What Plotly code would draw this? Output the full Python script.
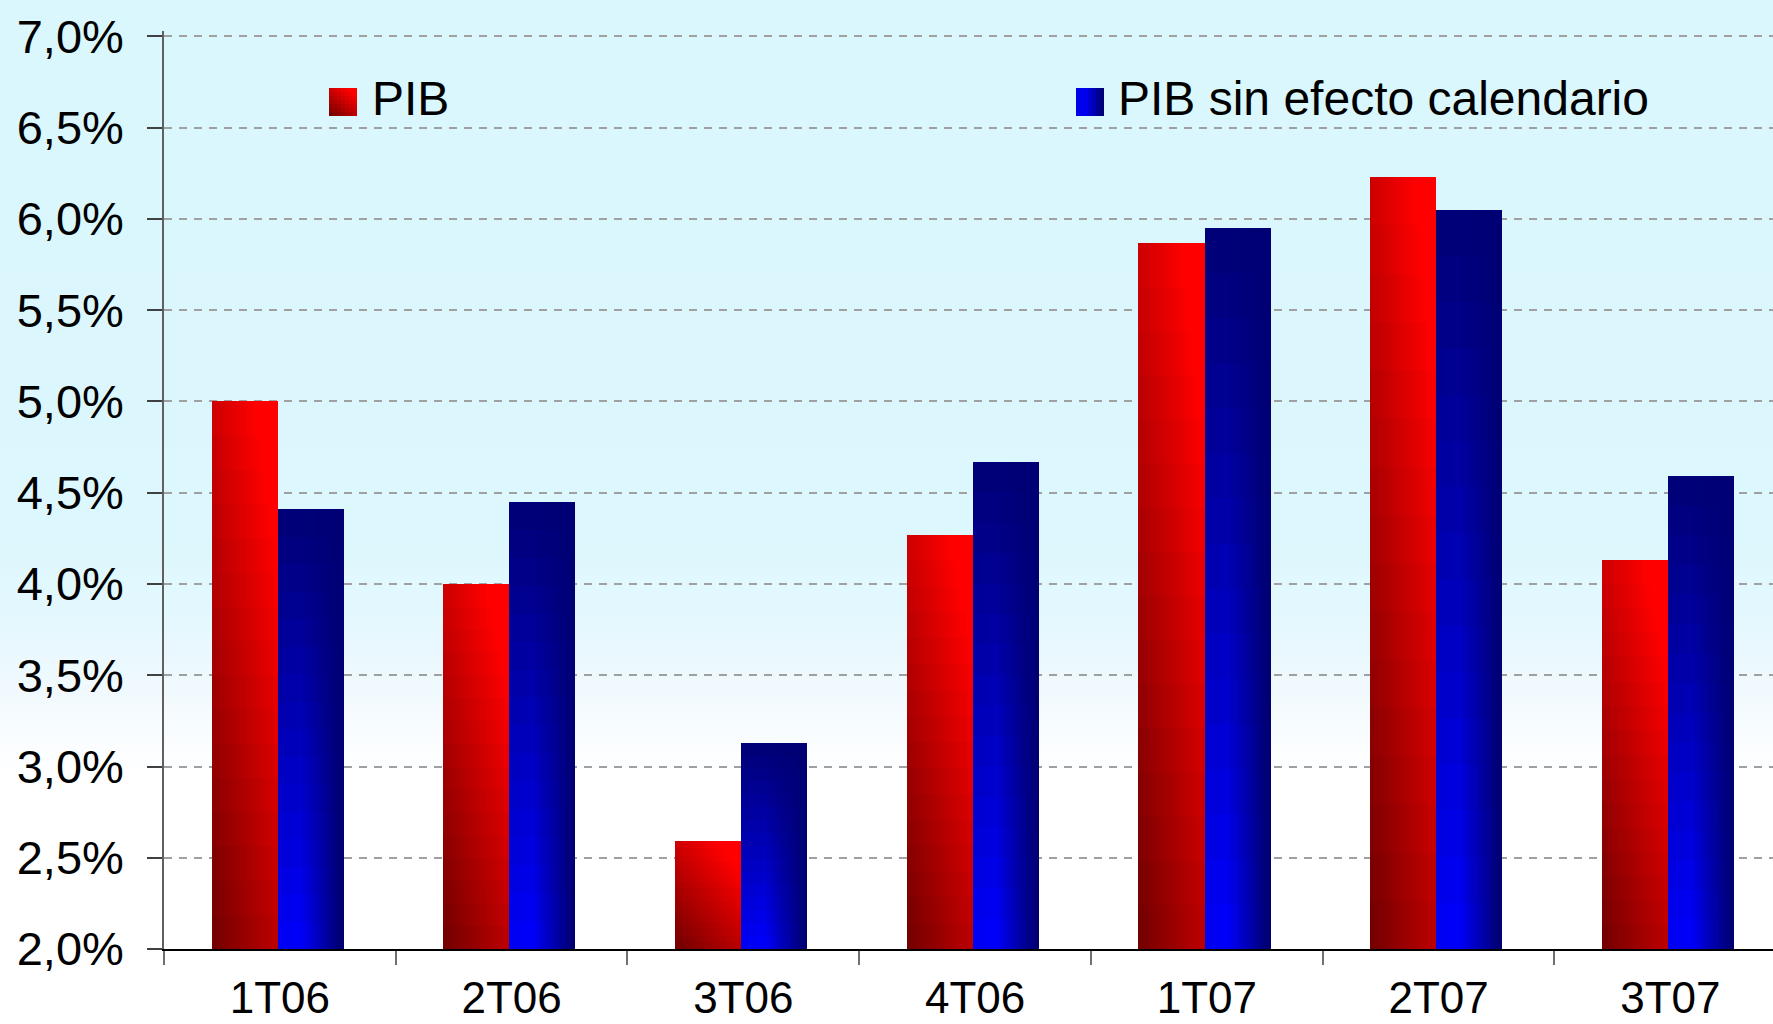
import plotly.graph_objects as go

# ---------------- data ----------------
categories = ["1T06", "2T06", "3T06", "4T06", "1T07", "2T07", "3T07"]
pib = [5.00, 4.00, 2.59, 4.27, 5.87, 6.23, 4.13]
pib_sin_efecto = [4.41, 4.45, 3.13, 4.67, 5.95, 6.05, 4.59]
series_names = ["PIB", "PIB sin efecto calendario"]
y_tickvals = [2.0, 2.5, 3.0, 3.5, 4.0, 4.5, 5.0, 5.5, 6.0, 6.5, 7.0]
y_ticktext = ["2,0%", "2,5%", "3,0%", "3,5%", "4,0%", "4,5%", "5,0%", "5,5%", "6,0%", "6,5%", "7,0%"]

# ---------------- layout constants ----------------
W, H = 1773, 1024
ML, MR, MT, MB = 164, 0, 31, 75
PW, PH = W - ML - MR, H - MT - MB
Y0 = 2.0
Y_TOP = 7.03
FONT = "Liberation Sans, Arial, sans-serif"


def red_col(fx, fy):
    r = min(255, 112 + 75 * fx + 95 * fy)
    return f"rgb({int(r)},0,0)"


def blue_col(fx, fy):
    if fx < 0.35:
        h = 0.93 + 0.07 * fx / 0.35
    else:
        h = max(0.0, 1 - (fx - 0.35) / 0.6)
    v = 1 - fy
    b = 116 + 139 * h * v
    return f"rgb(0,0,{int(b)})"


fig = go.Figure()

NX, NY = 16, 16
bar_w = 0.285
series = [
    (pib, -0.295, red_col),
    (pib_sin_efecto, -0.01, blue_col),
]
for vals, off, cfun in series:
    for j in range(NX):
        for k in range(NY):
            bases = [Y0 + (v - Y0) * k / NY for v in vals]
            heights = [v - b for v, b in zip(vals, bases)]
            fig.add_trace(go.Bar(
                x=categories, y=heights, base=bases,
                offset=off + bar_w * j / NX,
                width=bar_w * (NX - j) / NX,
                marker=dict(color=cfun((j + 0.5) / NX, (k + 0.5) / NY), line=dict(width=0)),
                showlegend=False, hoverinfo="skip",
            ))

shapes = []
# background vertical gradient (whole figure)
stops = [(0, (217, 247, 253)), (540, (220, 247, 253)), (620, (228, 248, 254)),
         (690, (240, 249, 254)), (740, (250, 253, 255)), (775, (255, 255, 255)), (1024, (255, 255, 255))]


def bg_at(py):
    for (a, ca), (b, cb) in zip(stops[:-1], stops[1:]):
        if a <= py <= b:
            t = (py - a) / (b - a) if b > a else 0
            return tuple(int(round(ca[i] + (cb[i] - ca[i]) * t)) for i in range(3))
    return stops[-1][1]


def px2paper_x(px):
    return (px - ML) / PW


def px2paper_y(py):
    return (MT + PH - py) / PH


step = 8
for py in range(0, H, step):
    c = bg_at(py + step / 2)
    shapes.append(dict(type="rect", xref="paper", yref="paper", layer="below",
                       x0=px2paper_x(-5), x1=px2paper_x(W + 5),
                       y0=px2paper_y(py + step + 0.5), y1=px2paper_y(py - 0.5),
                       fillcolor=f"rgb{c}", line=dict(width=0)))


# legend swatches
def swatch(x0, y0, size, cfun, n=7, vertical=True):
    for a in range(n):
        for b in range(n if vertical else 1):
            fx = (a + 0.5) / n
            fy = (b + 0.5) / n if vertical else 0.1
            sx0 = x0 + size * a / n
            sx1 = x0 + size * (a + 1) / n + 0.6
            if vertical:
                sy1 = y0 + size - size * b / n
                sy0 = y0 + size - size * (b + 1) / n - 0.6
            else:
                sy0, sy1 = y0, y0 + size
            shapes.append(dict(type="rect", xref="paper", yref="paper", layer="above",
                               x0=px2paper_x(sx0), x1=px2paper_x(min(sx1, x0 + size)),
                               y0=px2paper_y(min(sy1, y0 + size)), y1=px2paper_y(max(sy0, y0)),
                               fillcolor=cfun(fx, fy), line=dict(width=0)))


swatch(329, 88, 28, red_col, vertical=True)
swatch(1076, 88, 28, blue_col, vertical=False)

annotations = [
    dict(text=series_names[0], xref="paper", yref="paper", x=px2paper_x(370), y=px2paper_y(98),
         xanchor="left", yanchor="middle", showarrow=False, font=dict(family=FONT, size=48, color="black")),
    dict(text=series_names[1], xref="paper", yref="paper", x=px2paper_x(1116), y=px2paper_y(98),
         xanchor="left", yanchor="middle", showarrow=False, font=dict(family=FONT, size=48, color="black")),
]

fig.update_layout(
    width=W, height=H,
    margin=dict(l=ML, r=MR, t=MT, b=MB, pad=0, autoexpand=False),
    paper_bgcolor="white", plot_bgcolor="rgba(0,0,0,0)",
    barmode="overlay", bargap=0, bargroupgap=0,
    shapes=shapes, annotations=annotations,
    showlegend=False,
    font=dict(family=FONT, color="black"),
)
fig.update_xaxes(
    type="category", range=[-0.5, 6.443], tickson="boundaries",
    ticks="outside", ticklen=14, tickwidth=1.5, tickcolor="#707070",
    showline=True, linecolor="black", linewidth=2,
    showgrid=False, zeroline=False, automargin=False,
    tickfont=dict(family=FONT, size=44, color="black"),
    ticklabelstandoff=9,
)
fig.update_yaxes(
    range=[Y0, Y_TOP], tickvals=y_tickvals, ticktext=y_ticktext,
    ticks="outside", ticklen=15, tickwidth=1.5, tickcolor="#404040",
    showline=True, linecolor="#606060", linewidth=1.5,
    showgrid=True, gridcolor="rgb(160,160,160)", gridwidth=1.5, griddash="8px,7px",
    zeroline=False, automargin=False,
    tickfont=dict(family=FONT, size=47, color="black"),
    ticklabelstandoff=14,
)

fig.write_html(
    "out.html",
    config={"displayModeBar": False},
    post_script="document.body.style.margin='0px';document.body.style.overflow='hidden';",
)
